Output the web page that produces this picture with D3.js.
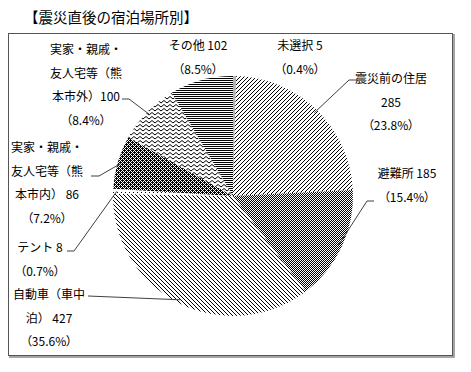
<!DOCTYPE html>
<html>
<head>
<meta charset="utf-8">
<script src="https://cdn.jsdelivr.net/npm/d3@7"></script>
<style>
  body { margin: 0; background: #fff; }
  text { font-family: "Noto Sans CJK JP", sans-serif; fill: #000; }
  .pct { font-feature-settings: "palt"; }
</style>
</head>
<body>
<svg width="471" height="372"></svg>
<script>
// data (clockwise from 12 o'clock)
const categories = ["未選択", "震災前の住居", "避難所", "自動車（車中泊）", "テント",
  "実家・親戚・友人宅等（熊本市内）", "実家・親戚・友人宅等（熊本市外）", "その他"];
const counts = [5, 285, 185, 427, 8, 86, 100, 102];
const percents = ["0.4%", "23.8%", "15.4%", "35.6%", "0.7%", "7.2%", "8.4%", "8.5%"];
// label text as wrapped in the original
const labelLines = [
  ["未選択 5"],
  ["震災前の住居", "285"],
  ["避難所 185"],
  ["自動車（車中", "泊） 427"],
  ["テント 8"],
  ["実家・親戚・", "友人宅等（熊", "本市内） 86"],
  ["実家・親戚・", "友人宅等（熊", "本市外）100"],
  ["その他 102"]
];
const title = "【震災直後の宿泊場所別】";

const svg = d3.select("svg");
const cx = 233, cy = 196, r = 120;
const lineH = 23.5;

// label block positions (center x, first line center y) and leader elbows
const labelPos = [
  { x: 300, y: 46 }, { x: 391, y: 79 }, { x: 407, y: 174 }, { x: 49, y: 295 },
  { x: 40, y: 248 }, { x: 47, y: 148 }, { x: 86, y: 50 }, { x: 198, y: 46 }
];
const leaders = [
  null,
  [[357, 80], [349, 80]],
  [[374, 201], [367, 201]],
  [[88, 296]],
  [[67, 251], [74, 251]],
  [[91, 176], [99, 176]],
  [[122, 99], [129, 99]],
  null
];

// fill patterns
const defs = svg.append("defs");
const pixPattern = (id, w, h, bg, fg, pix) => {
  const p = defs.append("pattern").attr("id", id)
    .attr("patternUnits", "userSpaceOnUse").attr("width", w).attr("height", h);
  p.append("rect").attr("width", w).attr("height", h).attr("fill", bg);
  pix.forEach(([x, y]) => p.append("rect").attr("x", x).attr("y", y)
    .attr("width", 1).attr("height", 1).attr("fill", fg).attr("shape-rendering", "crispEdges"));
};
// forward diagonal "/"
pixPattern("fwd", 4, 4, "#fff", "#000", [[3, 0], [2, 1], [1, 2], [0, 3]]);
// back diagonal "\"
pixPattern("back", 4, 4, "#fff", "#000", [[0, 0], [1, 1], [2, 2], [3, 3]]);
// 50% checker
pixPattern("check", 2, 2, "#fff", "#000", [[0, 0], [1, 1]]);
// dark checker (about 60%)
pixPattern("dark", 4, 4, "#fff", "#000",
  [[0, 0], [2, 0], [1, 1], [3, 1], [0, 2], [2, 2], [1, 3], [3, 3], [1, 0], [3, 2]]);
// sparse dots
pixPattern("sparse", 4, 4, "#fff", "#000", [[0, 0]]);
// horizontal lines
pixPattern("horiz", 2, 2, "#fff", "#000", [[0, 0], [1, 0]]);
// zigzag
const zz = defs.append("pattern").attr("id", "zigzag")
  .attr("patternUnits", "userSpaceOnUse").attr("width", 6).attr("height", 4);
zz.append("rect").attr("width", 6).attr("height", 4).attr("fill", "#fff");
zz.append("path").attr("d", "M0,3 L3,0.5 L6,3").attr("fill", "none")
  .attr("stroke", "#000").attr("stroke-width", 1);

const fills = ["#b3b3b3", "url(#fwd)", "url(#check)", "url(#back)", "url(#sparse)",
  "url(#dark)", "url(#zigzag)", "url(#horiz)"];

// frame
svg.append("rect").attr("x", 8.5).attr("y", 33.5).attr("width", 444).attr("height", 322)
  .attr("fill", "none").attr("stroke", "#555");
svg.append("path").attr("d", "M454,34 V357 H9").attr("fill", "none")
  .attr("stroke", "#888").attr("stroke-width", 1.5);

svg.append("text").attr("x", 24).attr("y", 18).attr("dy", "0.35em")
  .style("font-size", "14.5px").text(title);

const arcs = d3.pie().sort(null).value((d) => d)(counts);
const arc = d3.arc().innerRadius(0).outerRadius(r);
const edge = d3.arc().innerRadius(r * 0.97).outerRadius(r * 0.97);

const g = svg.append("g").attr("transform", `translate(${cx},${cy})`);
g.selectAll("path.slice")
  .data(arcs)
  .enter()
  .append("path")
  .attr("class", "slice")
  .attr("d", arc)
  .attr("fill", (d, i) => fills[i]);

// leader lines
arcs.forEach((d, i) => {
  if (!leaders[i]) return;
  const [ex, ey] = edge.centroid(d);
  const pts = leaders[i].concat([[cx + ex, cy + ey]]);
  svg.append("path")
    .attr("d", d3.line()(pts))
    .attr("fill", "none")
    .attr("stroke", "#404040")
    .attr("stroke-width", 1);
});

// labels
const labels = svg.append("g").style("font-size", "12px").attr("text-anchor", "middle");
categories.forEach((c, i) => {
  const lines = labelLines[i].concat([`（${percents[i]}）`]);
  lines.forEach((t, j) => {
    labels.append("text")
      .attr("class", j === lines.length - 1 ? "pct" : null)
      .attr("x", labelPos[i].x)
      .attr("y", labelPos[i].y + j * lineH)
      .attr("dy", "0.35em")
      .text(t);
  });
});
</script>
</body>
</html>
